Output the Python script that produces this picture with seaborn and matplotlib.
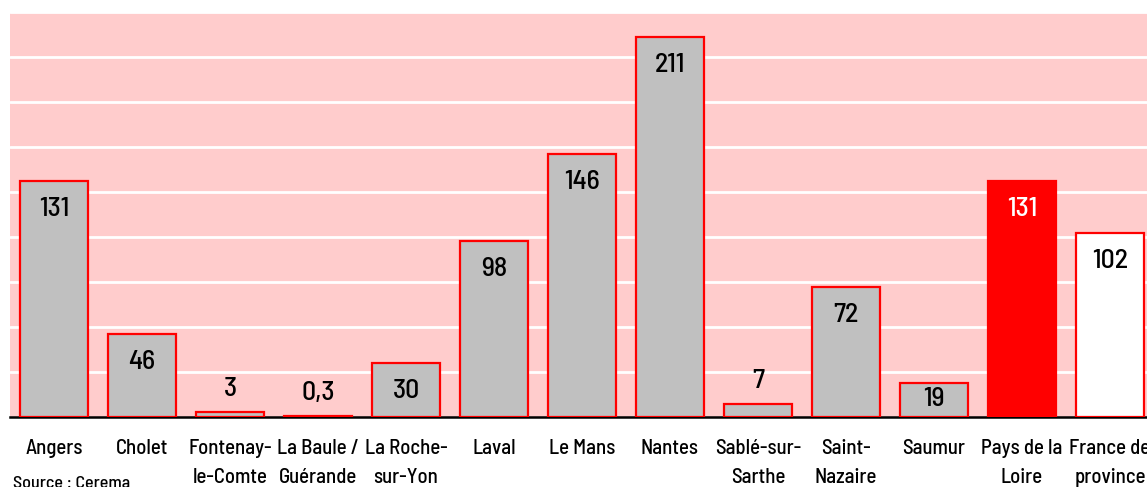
import seaborn as sns
from matplotlib import pyplot as plt
import pandas as pd
import numpy as np

cats = ['Angers', 'Cholet', 'Fontenay-\nle-Comte', 'La Baule /\nGuérande', 'La Roche-\nsur-Yon',
        'Laval', 'Le Mans', 'Nantes', 'Sablé-sur-\nSarthe', 'Saint-\nNazaire', 'Saumur',
        'Pays de la\nLoire', 'France de\nprovince']
vals = [131, 46, 3, 0.3, 30, 98, 146, 211, 7, 72, 19, 131, 102]
labels = ['131', '46', '3', '0,3', '30', '98', '146', '211', '7', '72', '19', '131', '102']
fills = ['#C0C0C0'] * 11 + ['#FF0000', '#FFFFFF']

sns.set_style('white')
plt.rcParams['font.family'] = ['Barlow Semi Condensed', 'DejaVu Sans']
plt.rcParams['font.weight'] = 'medium'
plt.rcParams['text.color'] = 'black'
plt.rcParams['xtick.color'] = 'black'

df = pd.DataFrame({'cat': cats, 'val': vals})
fig = plt.figure(figsize=(11.47, 4.87), dpi=100)
ax = fig.add_axes([10 / 1147, 70 / 487, 1144 / 1147, 405 / 487])
ax.set_facecolor('#FFCCCC')
sns.barplot(data=df, x='cat', y='val', hue='cat', palette=fills, legend=False, saturation=1,
            width=0.77, edgecolor='#FF0000', linewidth=1.6, ax=ax, zorder=3)

ax.set_ylim(0, 225)
ax.set_xlim(-0.5, len(cats) - 0.5)
ax.set_yticks(np.arange(25, 226, 25))
ax.yaxis.grid(True, color='white', linewidth=2)
ax.set_axisbelow(True)
ax.tick_params(axis='y', left=False, labelleft=False)
ax.set_xlabel('')
ax.set_ylabel('')
for s in ['left', 'right', 'top']:
    ax.spines[s].set_visible(False)
ax.spines['bottom'].set_color('black')
ax.spines['bottom'].set_linewidth(1.8)

ax.set_xticks(np.arange(len(cats)))
ax.set_xticklabels(cats, fontsize=15, linespacing=1.65, va='top', color='black')
ax.tick_params(axis='x', which='major', length=0, pad=16)
ax.set_xticks(np.arange(-0.5, len(cats), 1), minor=True)
ax.tick_params(axis='x', which='minor', direction='inout', length=15, width=1.8, color='black')

for i, (v, t) in enumerate(zip(vals, labels)):
    h = v * 1.8
    if h > 40:
        off = -28
    elif h > 25:
        off = -16
    else:
        off = 23
    col = 'white' if i == 11 else 'black'
    ax.annotate(t, (i, v), xytext=(0, off), textcoords='offset pixels',
                ha='center', va='center', fontsize=20, color=col, zorder=5)

fig.text(13 / 1147, 1 - 483 / 487, 'Source : Cerema', fontsize=13, va='center', ha='left')

fig.savefig('out.png', dpi=100)
